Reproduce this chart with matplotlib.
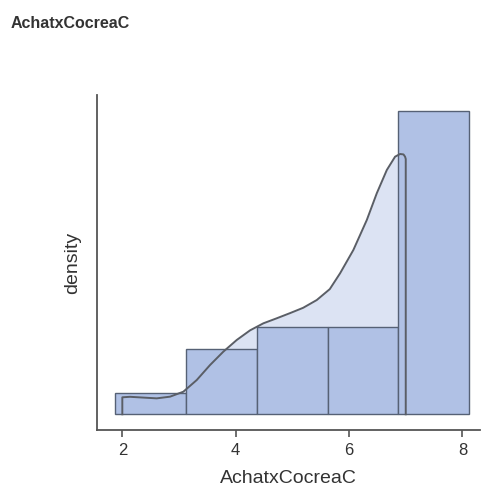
import numpy as np
import matplotlib
matplotlib.use("Agg")
import matplotlib.pyplot as plt

plt.rcParams['font.family'] = ['Liberation Sans', 'DejaVu Sans']

title = "AchatxCocreaC"
xlabel = "AchatxCocreaC"
ylabel = "density"

bin_edges = [1.87, 3.12, 4.37, 5.62, 6.87, 8.12]
counts = [1, 3, 4, 4, 14]

kde_x = [2.000, 2.136, 2.371, 2.607, 2.842, 3.076, 3.313, 3.548, 3.782, 4.019,
         4.253, 4.488, 4.720, 4.960, 5.190, 5.430, 5.660, 5.842, 6.076, 6.313,
         6.489, 6.666, 6.812, 6.900, 6.960, 6.988, 7.000]
kde_y = [0.0241, 0.0248, 0.0237, 0.0226, 0.0250, 0.0320, 0.0486, 0.0699, 0.0888, 0.1054,
         0.1190, 0.1290, 0.1360, 0.1435, 0.1510, 0.1620, 0.1775, 0.2000, 0.2330, 0.2755,
         0.3134, 0.3464, 0.3653, 0.3691, 0.3685, 0.3653, 0.3620]

xticks = [2, 4, 6, 8]

fig = plt.figure(figsize=(4.83, 4.87), dpi=100)
ax = fig.add_axes([0.2002, 0.117, 0.7936, 0.688])

edges = np.array(bin_edges)
cnt = np.array(counts, dtype=float)
widths = np.diff(edges)
dens = cnt / (cnt.sum() * widths)

kx = np.array(kde_x)
ky = np.array(kde_y)

ax.fill_between(kx, ky, 0, color='#DCE3F3', linewidth=0, zorder=1)
ax.bar(edges[:-1], dens, width=widths, align='edge', color='#B0C1E5',
       edgecolor='#566175', linewidth=1.0, zorder=2)
ax.plot(np.concatenate([[kx[0]], kx, [kx[-1]]]),
        np.concatenate([[0], ky, [0]]), color='#5A5E66', linewidth=1.4,
        solid_joinstyle='round', zorder=3)

ax.set_xlim(1.548, 8.31)
ax.set_ylim(-0.0223, 0.4528)

for s in ['top', 'right']:
    ax.spines[s].set_visible(False)
for s in ['left', 'bottom']:
    ax.spines[s].set_color('#555555')
    ax.spines[s].set_linewidth(1.3)

ax.set_xticks(xticks)
ax.set_xticklabels([str(t) for t in xticks])
ax.tick_params(axis='x', length=5, width=1.2, color='#555555', labelsize=12,
               labelcolor='#333333', pad=4)
ax.set_yticks([])

ax.set_xlabel(xlabel, fontsize=14, color='#333333', labelpad=9)
ax.set_ylabel(ylabel, fontsize=14, color='#333333', labelpad=11)

fig.text(0.022, 0.952, title, fontsize=11.5, fontweight='bold', color='#333333',
         ha='left', va='center')

fig.savefig('out.png', dpi=100)
